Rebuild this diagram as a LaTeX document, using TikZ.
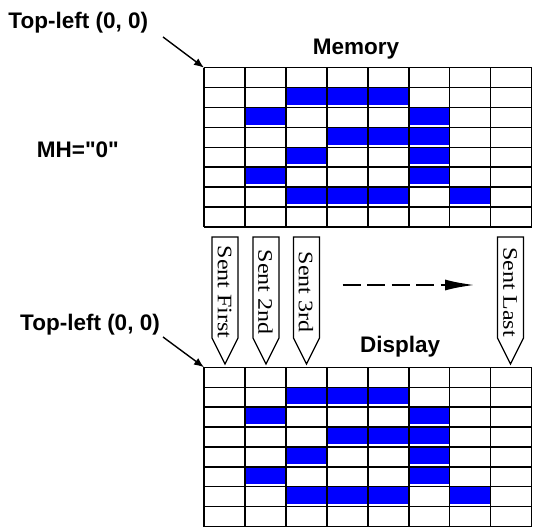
\documentclass[tikz,border=0pt]{standalone}
\usepackage{fontspec}
\setmainfont{Liberation Serif}
\newfontfamily\lblfont{Liberation Sans}
\usetikzlibrary{arrows.meta}
\begin{document}
\begin{tikzpicture}[x=1pt,y=-1pt,
  lbl/.style={font=\lblfont\bfseries\fontsize{22.5}{27}\selectfont, inner sep=0pt},
  gridline/.style={line width=1.4pt, black},
  cellfill/.style={fill={rgb,255:red,0;green,0;blue,255}},
  tagbox/.style={draw, line width=1.3pt, fill=white, line join=miter},
  tagtext/.style={rotate=-90, inner sep=0pt, font=\rmfamily\fontsize{24}{24}\selectfont},
  ptr/.style={line width=1.4pt, -{Latex[length=10pt,width=8pt]}},
  flow/.style={line width=2.4pt, dash pattern=on 18pt off 6.5pt, -{Latex[length=30pt,width=11pt]}}
]
\useasboundingbox (0,0) rectangle (540,529);

% grid corners
\coordinate (memTL) at (204,67.7);
\coordinate (dispTL) at (204,367.3);

% grids
\foreach \gy in {67.7,367.3}{
  \foreach \r/\c in {1/2,1/3,1/4,2/1,2/5,3/3,3/4,3/5,4/2,4/5,5/1,5/5,6/2,6/3,6/4,6/6}{
    \fill[cellfill] (204+\c*40.96, \gy+\r*19.9) rectangle ++(40.96, 17.2);
  }
  \foreach \i in {0,...,8}{
    \draw[gridline] (204+\i*40.96, \gy) -- ++(0,159.2);
  }
  \foreach \j in {0,...,8}{
    \draw[gridline] (204, \gy+\j*19.9) -- ++(327.7,0);
  }
}

% labels
\node[lbl, anchor=base west] (tl1) at (8.3,29) {Top-left (0, 0)};
\node[lbl, anchor=base west] (memlbl) at (312.7,54.3) {Memory};
\node[lbl, anchor=base west] (mh) at (36.7,158) {MH="0"};
\node[lbl, anchor=base west] (tl2) at (20,330.7) {Top-left (0, 0)};
\node[lbl, anchor=base west] (displbl) at (360,352.7) {Display};

% pointer arrows
\coordinate (tl1a) at (163,37);
\coordinate (tl2a) at (163,337);
\draw[ptr] (tl1a) -- (memTL);
\draw[ptr] (tl2a) -- (dispTL);

% tags
\foreach \cx/\txt/\nm in {225/Sent First/t1, 266/Sent 2nd/t2, 306.5/Sent 3rd/t3, 510.5/Sent Last/t4}{
  \draw[tagbox] (\cx-13,237) -- (\cx+13,237) -- (\cx+13,338) -- (\cx,364) -- (\cx-13,338) -- cycle;
  \node[tagtext] (\nm) at (\cx-0.5,292) {\scalebox{1}[0.86]{\txt}};
}

% flow arrow
\coordinate (fa) at (342.7,285);
\coordinate (fb) at (475,285);
\draw[flow] (fa) -- (fb);
\end{tikzpicture}
\end{document}
